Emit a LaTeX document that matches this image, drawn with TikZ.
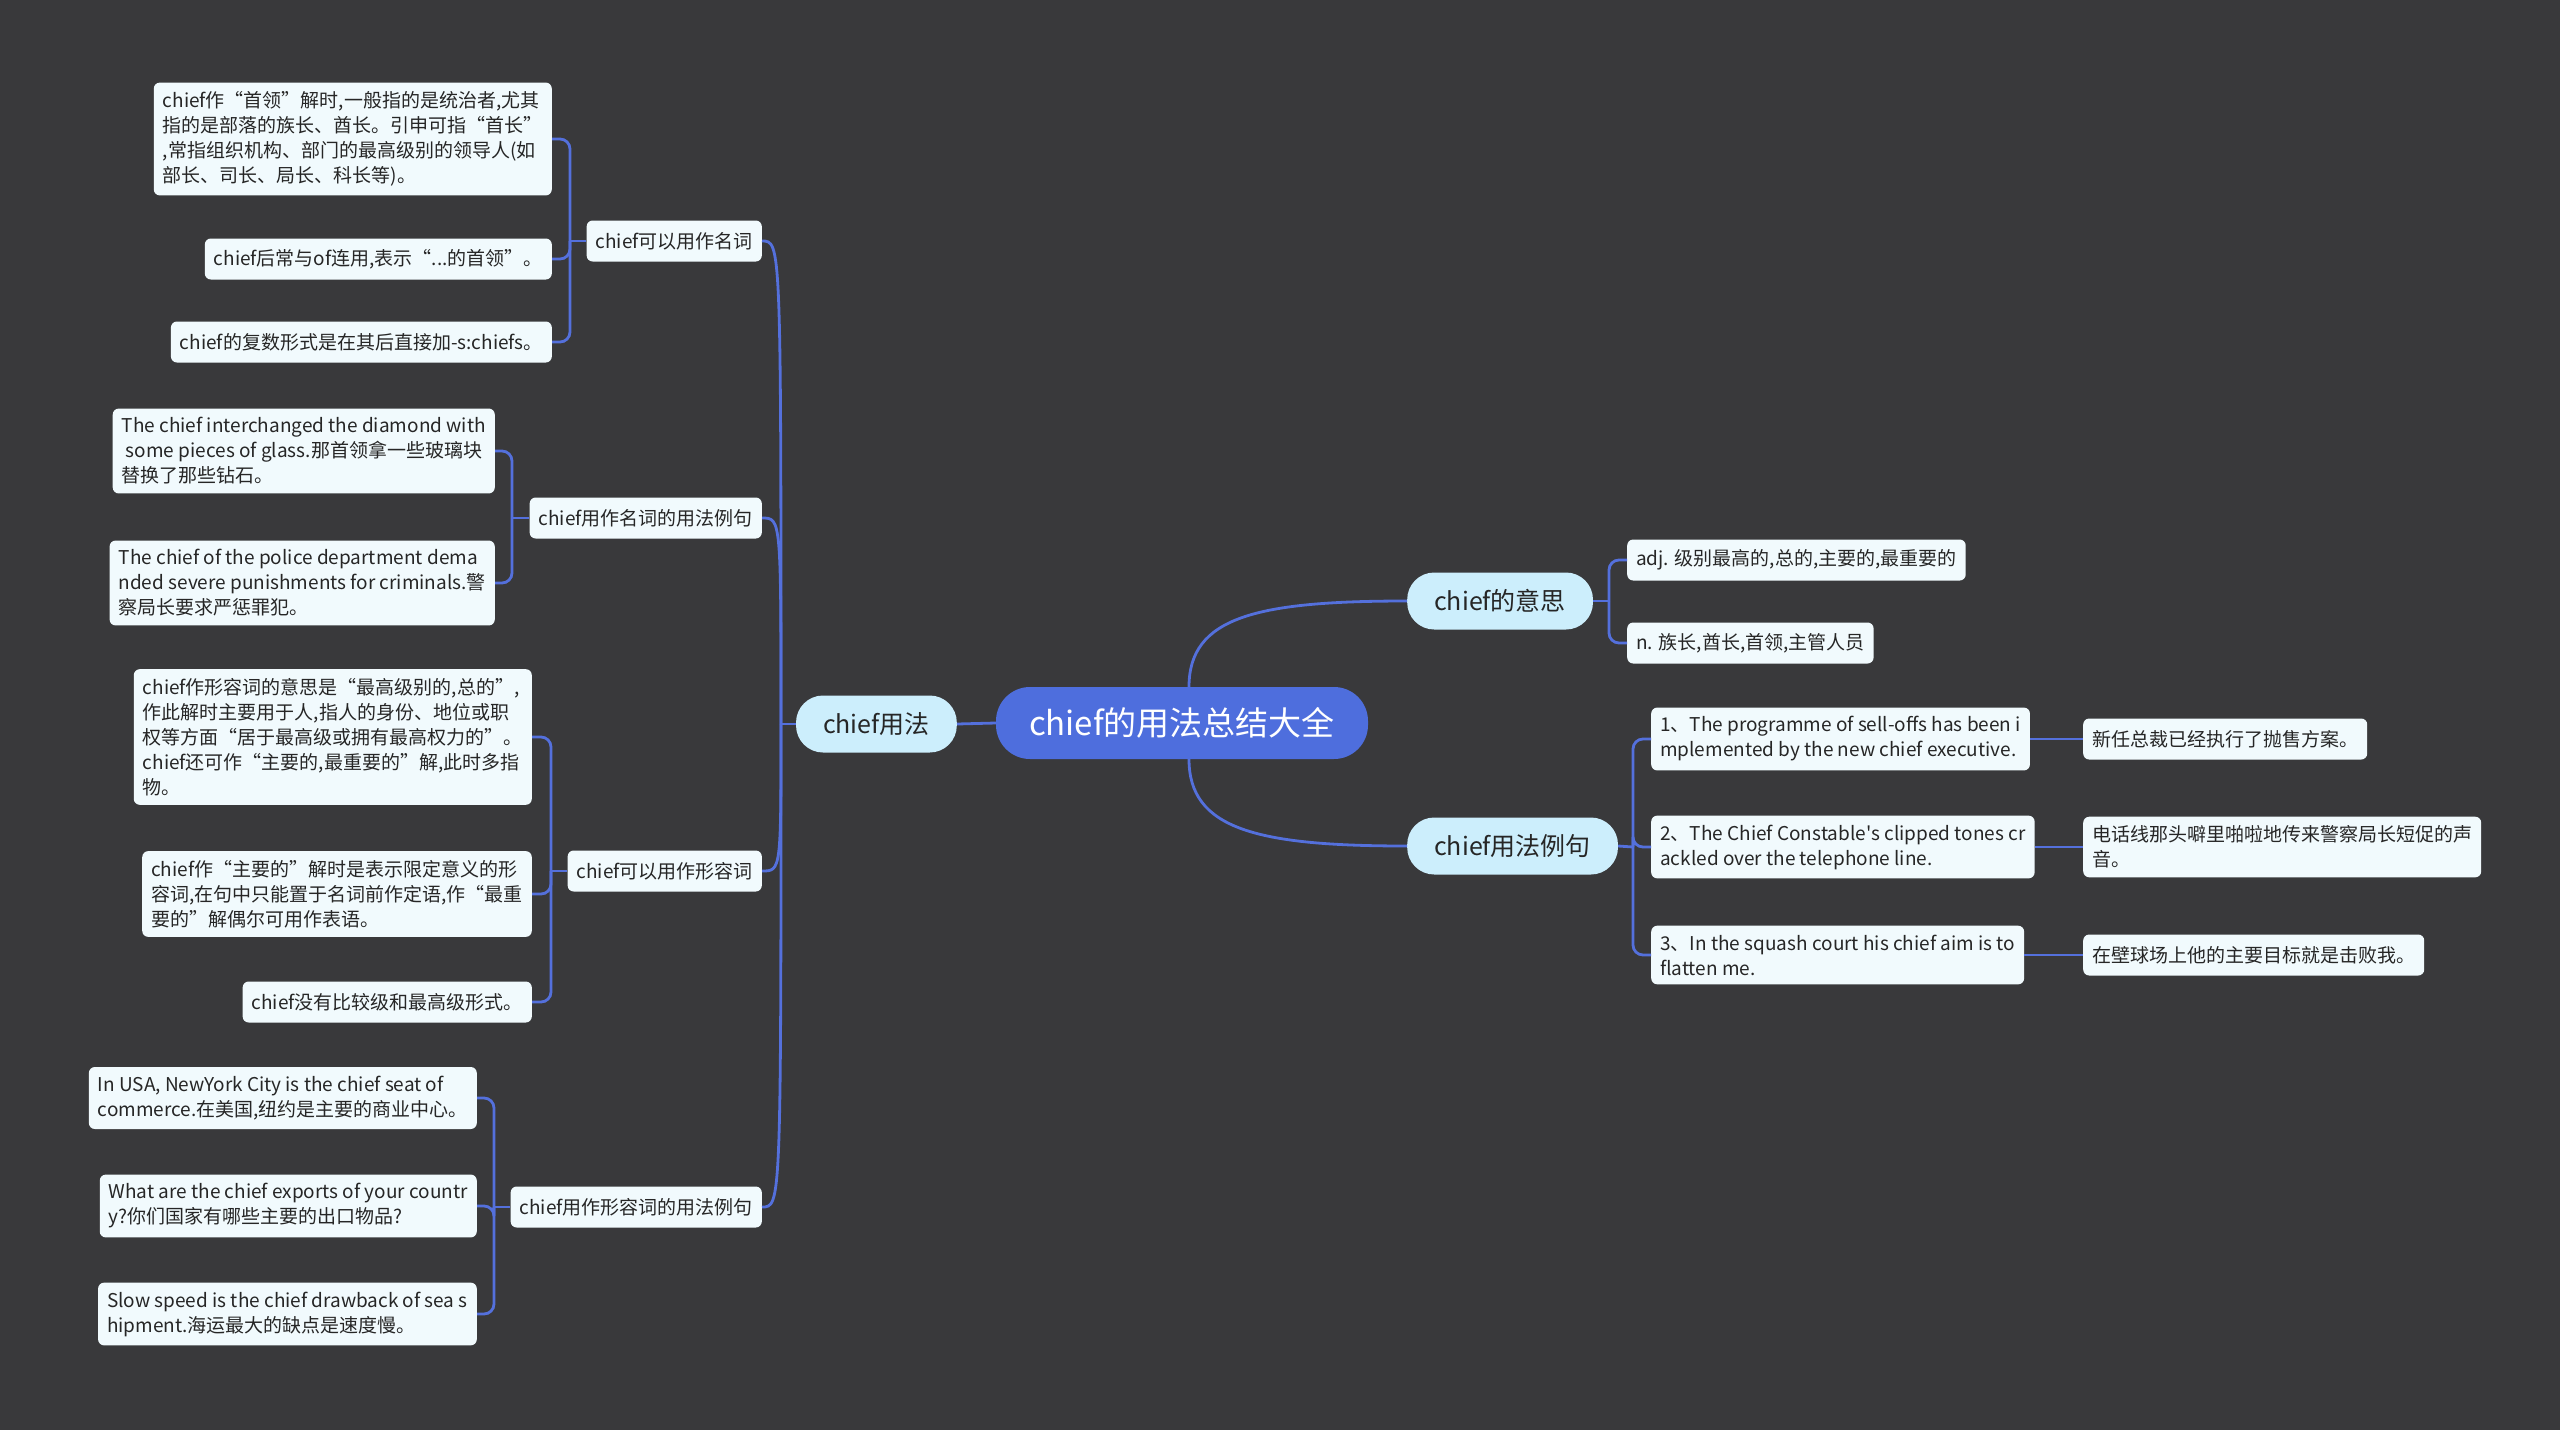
\documentclass[tikz,border=0pt]{standalone}
\usepackage{fontspec}
\setmainfont{Noto Sans CJK SC}
\newfontfamily\plainquote{Noto Sans CJK SC}
\usepackage{tikz}
\usetikzlibrary{calc}
\definecolor{canvas}{RGB}{57,57,59}
\definecolor{rootblue}{RGB}{78,110,221}
\definecolor{branchfill}{RGB}{204,238,252}
\definecolor{leaffill}{RGB}{241,250,253}
\definecolor{linkblue}{RGB}{84,112,220}
\tikzset{
  rootbox/.style={rectangle, rounded corners=34pt, fill=rootblue, text=white,
                  minimum width=372pt, minimum height=72pt,
                  font=\fontsize{33pt}{40pt}\selectfont},
  branchbox/.style={rectangle, rounded corners=27pt, fill=branchfill, text=black!85,
                    minimum height=57pt, inner xsep=27pt,
                    font=\fontsize{25pt}{30pt}\selectfont},
  topicbox/.style={rectangle, rounded corners=6pt, fill=leaffill, text=black!85,
                   minimum height=41pt, inner xsep=9pt,
                   font=\fontsize{19pt}{25pt}\selectfont},
  leafbox/.style={topicbox, align=left, inner ysep=9pt},
  link/.style={draw=linkblue, line width=2.8pt},
}

\begin{document}
\begin{tikzpicture}[x=1pt,y=-1pt]
  \fill[canvas] (0,0) rectangle (2560,1430);
  % centre and main branches
  \node[rootbox] (root) at (1182,723) {chief的用法总结大全};
  \node[branchbox,anchor=east] (use) at (957,724) {chief用法};
  \node[branchbox,anchor=west] (mean) at (1407,601) {chief的意思};
  \node[branchbox,anchor=west] (ex) at (1407,846) {chief用法例句};
  % left topics
  \node[topicbox,anchor=east] (noun) at (762,241) {chief可以用作名词};
  \node[topicbox,anchor=east] (nounex) at (762,518) {chief用作名词的用法例句};
  \node[topicbox,anchor=east] (adj) at (762,871) {chief可以用作形容词};
  \node[topicbox,anchor=east] (adjex) at (762,1207) {chief用作形容词的用法例句};
  % noun notes
  \node[leafbox,anchor=east] (noun1) at (552,139) {chief作“首领”解时,一般指的是统治者,尤其\\指的是部落的族长、酋长。引申可指“首长”\\,常指组织机构、部门的最高级别的领导人(如\\部长、司长、局长、科长等)。};
  \node[leafbox,anchor=east] (noun2) at (552,259) {chief后常与of连用,表示“...的首领”。};
  \node[leafbox,anchor=east] (noun3) at (552,342) {chief的复数形式是在其后直接加-s:chiefs。};
  % noun examples
  \node[leafbox,anchor=east] (nounex1) at (495,451) {The chief interchanged the diamond with\\\ some pieces of glass.那首领拿一些玻璃块\\替换了那些钻石。};
  \node[leafbox,anchor=east] (nounex2) at (495,583) {The chief of the police department dema\\nded severe punishments for criminals.警\\察局长要求严惩罪犯。};
  % adjective notes
  \node[leafbox,anchor=east] (adj1) at (532,737) {chief作形容词的意思是“最高级别的,总的”,\\作此解时主要用于人,指人的身份、地位或职\\权等方面“居于最高级或拥有最高权力的”。\\chief还可作“主要的,最重要的”解,此时多指\\物。};
  \node[leafbox,anchor=east] (adj2) at (532,894) {chief作“主要的”解时是表示限定意义的形\\容词,在句中只能置于名词前作定语,作“最重\\要的”解偶尔可用作表语。};
  \node[leafbox,anchor=east] (adj3) at (532,1002) {chief没有比较级和最高级形式。};
  % adjective examples
  \node[leafbox,anchor=east] (adjex1) at (477,1098) {In USA, NewYork City is the chief seat of\\commerce.在美国,纽约是主要的商业中心。};
  \node[leafbox,anchor=east] (adjex2) at (477,1206) {What are the chief exports of your countr\\y?你们国家有哪些主要的出口物品?};
  \node[leafbox,anchor=east] (adjex3) at (477,1314) {Slow speed is the chief drawback of sea s\\hipment.海运最大的缺点是速度慢。};
  % meanings
  \node[leafbox,anchor=west] (mean1) at (1627,560) {adj. 级别最高的,总的,主要的,最重要的};
  \node[leafbox,anchor=west] (mean2) at (1627,643) {n. 族长,酋长,首领,主管人员};
  % sentences and translations
  \node[leafbox,anchor=west] (sent1) at (1651,739) {1、The programme of sell-offs has been i\\mplemented by the new chief executive.};
  \node[leafbox,anchor=west] (sent2) at (1651,847) {2、The Chief Constable{\plainquote'}s clipped tones cr\\ackled over the telephone line.};
  \node[leafbox,anchor=west] (sent3) at (1651,955) {3、In the squash court his chief aim is to\\flatten me.};
  \node[leafbox,anchor=west] (tr1) at (2083,739) {新任总裁已经执行了抛售方案。};
  \node[leafbox,anchor=west] (tr2) at (2083,847) {电话线那头噼里啪啦地传来警察局长短促的声\\音。};
  \node[leafbox,anchor=west] (tr3) at (2083,955) {在壁球场上他的主要目标就是击败我。};

  % junctions
  \coordinate (usej) at (781,724);
  \coordinate (nounj) at (570,241);
  \coordinate (nounexj) at (512,518);
  \coordinate (adjj) at (551,871);
  \coordinate (adjexj) at (494,1207);
  \coordinate (meanj) at (1609,601);
  \coordinate (exj) at (1633,847);

  % links from the centre
  \draw[link] (root.west) -- (use.east);
  \draw[link] ([xshift=7pt]root.north) .. controls +(0,-70) and +(-150,0) .. (mean.west);
  \draw[link] ([xshift=7pt]root.south) .. controls +(0,70) and +(-150,0) .. (ex.west);
  % left side
  \draw[link] (use.west) -- (usej);
  \foreach \t in {noun,nounex,adj,adjex}
    \draw[link] (usej) .. controls (usej |- \t.east) .. (\t.east);
  \draw[link] (noun.west) -- (nounj);
  \foreach \l in {noun1,noun2,noun3}
    \draw[link,rounded corners=10pt] (nounj) |- (\l.east);
  \draw[link] (nounex.west) -- (nounexj);
  \foreach \l in {nounex1,nounex2}
    \draw[link,rounded corners=10pt] (nounexj) |- (\l.east);
  \draw[link] (adj.west) -- (adjj);
  \foreach \l in {adj1,adj2,adj3}
    \draw[link,rounded corners=10pt] (adjj) |- (\l.east);
  \draw[link] (adjex.west) -- (adjexj);
  \foreach \l in {adjex1,adjex2,adjex3}
    \draw[link,rounded corners=10pt] (adjexj) |- (\l.east);
  % right side
  \draw[link] (mean.east) -- (meanj);
  \foreach \l in {mean1,mean2}
    \draw[link,rounded corners=10pt] (meanj) |- (\l.west);
  \draw[link] (ex.east) -- (exj);
  \foreach \l in {sent1,sent2,sent3}
    \draw[link,rounded corners=10pt] (exj) |- (\l.west);
  \foreach \n in {1,2,3}
    \draw[link] (sent\n.east) -- (tr\n.west);
\end{tikzpicture}
\end{document}
